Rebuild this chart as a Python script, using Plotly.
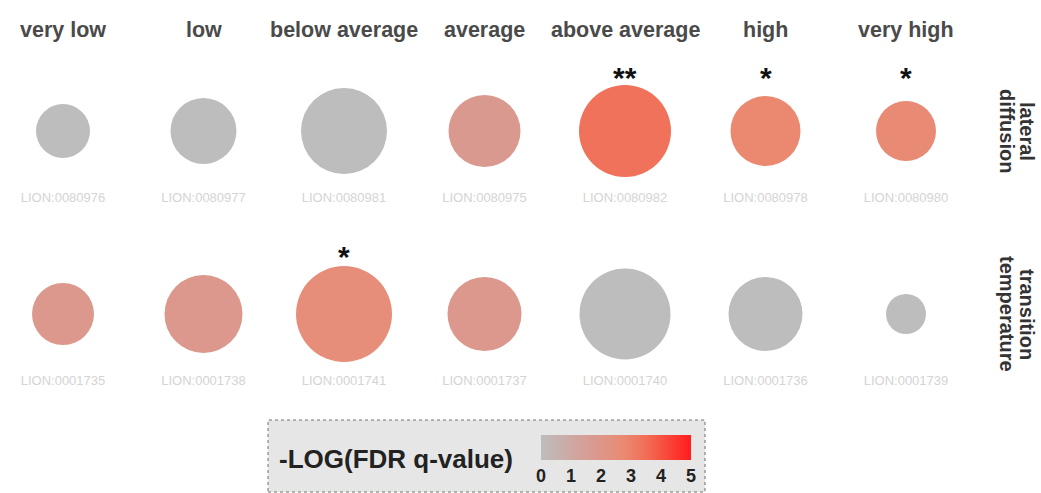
import plotly.graph_objects as go

# Column categories and the two property rows
categories = ["very low", "low", "below average", "average", "above average", "high", "very high"]
rows = ["lateral diffusion", "transition temperature"]
row_title_lines = [("lateral", "diffusion"), ("transition", "temperature")]

# LION ontology identifiers per row
lion_ids_diffusion = ["LION:0080976", "LION:0080977", "LION:0080981", "LION:0080975",
                      "LION:0080982", "LION:0080978", "LION:0080980"]
lion_ids_temperature = ["LION:0001735", "LION:0001738", "LION:0001741", "LION:0001737",
                        "LION:0001740", "LION:0001736", "LION:0001739"]

# -log10(FDR q-value) per term
neglog_q_diffusion = [0.0, 0.0, 0.0, 1.8, 3.4, 2.8, 2.7]
neglog_q_temperature = [1.9, 1.9, 2.5, 1.9, 0.0, 0.0, 0.0]

# bubble sizes per term
size_diffusion = [54, 66, 86, 72, 92, 70, 60]
size_temperature = [62, 78, 96, 74, 91, 74, 40]

# significance markers
stars_diffusion = ["", "", "", "", "**", "*", "*"]
stars_temperature = ["", "", "*", "", "", "", ""]

FONT = "Liberation Sans"
colorscale = [
    [0.0, "#bdbdbd"],
    [0.35, "#d99a90"],
    [0.55, "#ea8a72"],
    [0.7, "#f26e56"],
    [1.0, "#ff1c1c"],
]

x_idx = list(range(len(categories)))
row_y = {rows[0]: 1, rows[1]: 0}
star_offset = {rows[0]: 0.29, rows[1]: 0.315}

fig = go.Figure()

data_rows = [
    (rows[0], neglog_q_diffusion, size_diffusion, lion_ids_diffusion, stars_diffusion),
    (rows[1], neglog_q_temperature, size_temperature, lion_ids_temperature, stars_temperature),
]

for i, (name, vals, sizes, ids, stars) in enumerate(data_rows):
    y = [row_y[name]] * len(categories)
    fig.add_trace(go.Scatter(
        x=x_idx, y=y, mode="markers",
        marker=dict(
            size=sizes, sizemode="diameter", color=vals, opacity=1,
            cmin=0, cmax=5, colorscale=colorscale,
            line=dict(width=0),
            showscale=(i == 0),
            colorbar=dict(
                orientation="h", thickness=25, len=150, lenmode="pixels",
                x=616 / 1041, xanchor="center", y=1 - 435 / 493, yanchor="top",
                xpad=0, ypad=0, outlinewidth=0, ticks="", ticklabelposition="outside",
                tickvals=[0, 1, 2, 3, 4, 5],
                tickfont=dict(family=FONT, size=18, color="#222", weight="bold"),
            ),
        ),
        showlegend=False, hoverinfo="skip",
    ))
    # identifier labels under the bubbles
    fig.add_trace(go.Scatter(
        x=x_idx, y=[row_y[name] - 0.37] * len(categories), mode="text",
        text=ids, textfont=dict(family=FONT, size=13, color="#d4d4d4"),
        showlegend=False, hoverinfo="skip",
    ))
    # significance stars
    for xi, s in zip(x_idx, stars):
        if s:
            fig.add_annotation(
                x=xi, y=row_y[name] + star_offset[name], xref="x", yref="y", text=s,
                showarrow=False, yanchor="middle",
                font=dict(family=FONT, size=30, color="#111", weight="bold"),
            )

# column headers
for xi, c in zip(x_idx, categories):
    fig.add_annotation(
        x=xi, y=1 - 30 / 493, xref="x", yref="paper", text=c, showarrow=False,
        yanchor="middle", font=dict(family=FONT, size=21.5, color="#4a4a4a", weight="bold"),
    )

# row titles on the right, one rotated annotation per line
for name, (first, second) in zip(rows, row_title_lines):
    for xpix, line in ((1027, first), (1007, second)):
        fig.add_annotation(
            x=xpix / 1041, y=row_y[name], xref="paper", yref="y", text=line,
            showarrow=False, textangle=90, xanchor="center", yanchor="middle",
            font=dict(family=FONT, size=20, color="#333", weight="bold"),
        )

# legend box
fig.add_shape(
    type="rect", xref="paper", yref="paper",
    x0=268 / 1041, x1=705 / 1041, y0=1 - 492 / 493, y1=1 - 420 / 493,
    fillcolor="#e6e6e6", line=dict(color="#667766", width=1, dash="dot"), layer="below",
)
fig.add_annotation(
    x=277 / 1041, y=1 - 459 / 493, xref="paper", yref="paper",
    text="-LOG(FDR q-value)", showarrow=False, xanchor="left", yanchor="middle",
    font=dict(family=FONT, size=26, color="#222", weight="bold"),
)

fig.update_xaxes(range=[-63 / 140.5, 6 + 135 / 140.5], visible=False, fixedrange=True)
fig.update_yaxes(range=[-179 / 183, 1 + 131 / 183], visible=False, fixedrange=True)
fig.update_layout(
    width=1041, height=493, margin=dict(l=0, r=0, t=0, b=0),
    paper_bgcolor="white", plot_bgcolor="white",
)

fig.write_html("out.html")
